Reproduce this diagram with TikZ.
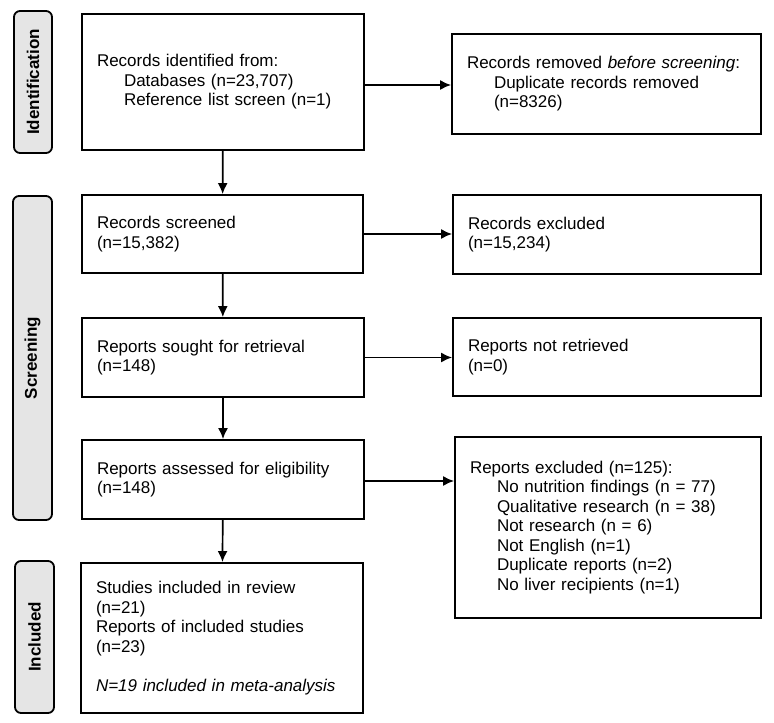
\documentclass[tikz,border=0pt]{standalone}
\usepackage{fontspec}
\setmainfont{Liberation Sans}
\usetikzlibrary{arrows.meta,positioning}

\tikzset{
  stage/.style = {draw, line width=1.8pt, align=left, inner xsep=15pt, inner ysep=0pt,
                  font=\fontsize{17}{19.5}\selectfont},
  phase/.style = {draw, line width=1.8pt, rounded corners=6pt, fill=black!10,
                  inner sep=0pt, minimum width=38pt, rotate=90,
                  font=\fontsize{17}{19.5}\selectfont\bfseries},
  arr/.style   = {line width=1.7pt, -{Latex[length=11pt,width=10pt]}}
}
\newcommand{\ind}{\hspace*{27pt}}

\begin{document}
\begin{tikzpicture}[x=1pt, y=-1pt]
\useasboundingbox (0,0) rectangle (774,723);

% phases on the left
\node[phase, minimum height=38pt, minimum width=142pt] (idphase) at (33,82) {Identification};
\node[phase, minimum height=39pt, minimum width=324pt] (scphase) at (32.5,358) {Screening};
\node[phase, minimum height=39pt, minimum width=152pt] (inphase) at (34.5,637) {Included};

% main column
\node[stage, text width=252pt, minimum height=136pt] (ident) at (223,82)
  {Records identified from:\\ \ind Databases (n=23,707)\\ \ind Reference list screen (n=1)};
\node[stage, text width=251pt, minimum height=78pt] (screened) at (222.5,234)
  {Records screened\\ (n=15,382)};
\node[stage, text width=252pt, minimum height=79pt] (sought) at (223,357.5)
  {Reports sought for retrieval\\ (n=148)};
\node[stage, text width=252pt, minimum height=79pt] (assessed) at (223,479.5)
  {Reports assessed for eligibility\\ (n=148)};
\node[stage, text width=252pt, minimum height=150pt] (included) at (222,638)
  {Studies included in review\\ (n=21)\\ Reports of included studies\\ (n=23)\\[19.5pt]
   \textit{N=19 included in meta-analysis}};

% side column
\node[stage, text width=279pt, minimum height=100pt] (removed) at (606.5,84)
  {Records removed \textit{before screening}:\\ \ind Duplicate records removed\\ \ind (n=8326)};
\node[stage, text width=278pt, minimum height=79pt] (excluded) at (607,234.5)
  {Records excluded\\ (n=15,234)};
\node[stage, text width=278pt, minimum height=78pt] (notretr) at (607,357)
  {Reports not retrieved\\ (n=0)};
\node[stage, text width=276pt, minimum height=181pt] (repexcl) at (608,527.5)
  {Reports excluded (n=125):\\ \ind No nutrition findings (n = 77)\\ \ind Qualitative research (n = 38)\\
   \ind Not research (n = 6)\\ \ind Not English (n=1)\\ \ind Duplicate reports (n=2)\\
   \ind No liver recipients (n=1)};

% arrows down
\draw[arr] (ident) -- (screened);
\draw[arr] (screened) -- (sought);
\draw[arr] (sought) -- (assessed);
\draw[arr] (assessed) -- (included);

% arrows across
\draw[arr] ([yshift=-3pt]ident.east) -- ([yshift=-3pt]ident.east -| removed.west);
\draw[arr] (screened.east) -- (screened.east -| excluded.west);
\draw[arr] (sought.east) -- (sought.east -| notretr.west);
\draw[arr] ([yshift=-1.5pt]assessed.east) -- ([yshift=-1.5pt]assessed.east -| repexcl.west);
\end{tikzpicture}
\end{document}
